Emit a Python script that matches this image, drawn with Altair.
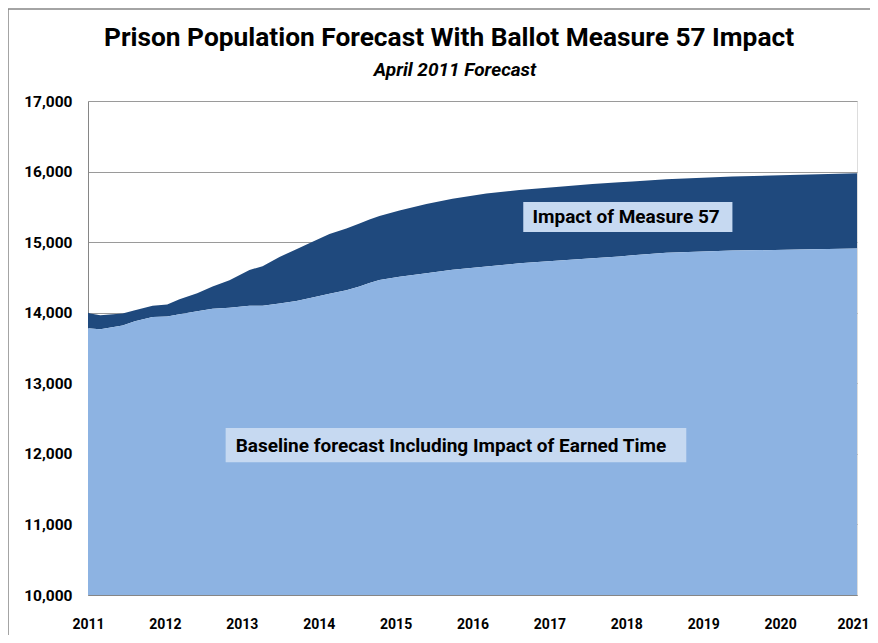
import altair as alt
import pandas as pd

# Time points (decimal years) and values
years = [2011.00, 2011.03, 2011.16, 2011.45, 2011.61, 2011.84, 2012.03, 2012.19,
         2012.42, 2012.62, 2012.84, 2013.10, 2013.27, 2013.49, 2013.71, 2013.92,
         2014.14, 2014.36, 2014.53, 2014.66, 2014.79, 2015.05, 2015.40, 2015.74,
         2016.18, 2016.61, 2017.13, 2017.56, 2017.91, 2018.08, 2018.52, 2019.38,
         2020.25, 2021.00]
baseline = [13780, 13775, 13765, 13820, 13880, 13940, 13945, 13980,
            14020, 14055, 14070, 14100, 14100, 14130, 14165, 14215,
            14270, 14320, 14370, 14420, 14465, 14510, 14560, 14610,
            14655, 14700, 14740, 14770, 14795, 14815, 14850, 14880,
            14895, 14910]
total = [14000, 13990, 13965, 13990, 14035, 14100, 14115, 14190,
         14275, 14370, 14460, 14605, 14660, 14790, 14900, 15005,
         15115, 15195, 15265, 15320, 15370, 15450, 15540, 15615,
         15690, 15740, 15785, 15825, 15850, 15860, 15890, 15930,
         15955, 15975]

# Annotation labels (text, box extents in data units, text anchor)
ann_text = ["Impact of Measure 57", "Baseline forecast Including Impact of Earned Time"]
ann_x1 = [2016.66, 2012.79]
ann_x2 = [2019.38, 2018.78]
ann_y1 = [15144, 11880]
ann_y2 = [15569, 12366]
ann_tx = [2016.78, 2012.92]
ann_ty = [15356, 12115]

title_text = "Prison Population Forecast With Ballot Measure 57 Impact"
subtitle_text = "April 2011 Forecast"

df = pd.DataFrame({"year": years, "baseline": baseline, "total": total})
df["floor"] = 10000
ann = pd.DataFrame({"text": ann_text, "x1": ann_x1, "x2": ann_x2,
                    "y1": ann_y1, "y2": ann_y2, "tx": ann_tx, "ty": ann_ty})
titles = pd.DataFrame({"t": [title_text], "s": [subtitle_text]})

FONT = "Liberation Sans Narrow, Roboto, sans-serif"
DARK = "#1F497D"
LIGHT = "#8DB3E2"
BOX = "#C6D9F1"

xs = alt.Scale(domain=[2011, 2021], nice=False, zero=False)
ys = alt.Scale(domain=[10000, 17000], nice=False, zero=False)

xaxis = alt.Axis(values=list(range(2011, 2022)), format="d", title=None,
                 labelFont=FONT, labelFontSize=14, labelFontWeight="bold",
                 labelColor="black", ticks=False, labelPadding=22,
                 labelOffset=alt.ExprRef(expr="datum.value == 2021 ? -4 : 0"),
                 domainColor="#868686", grid=False, labelFlush=False)
yaxis = alt.Axis(values=list(range(10000, 17001, 1000)), format=",d", title=None,
                 labelFont=FONT, labelFontSize=15.5, labelFontWeight="bold",
                 labelColor="black", ticks=False, labelPadding=16,
                 domainColor="#868686", gridColor="#9A9A9A", gridWidth=1.2)

base = alt.Chart(df)

impact = base.mark_area(color=DARK, opacity=1).encode(
    x=alt.X("year:Q", scale=xs, axis=xaxis),
    y=alt.Y("total:Q", scale=ys, axis=yaxis),
    y2="baseline:Q",
)
baseline_area = base.mark_area(color=LIGHT, opacity=1).encode(
    x=alt.X("year:Q", scale=xs),
    y=alt.Y("baseline:Q", scale=ys),
    y2="floor:Q",
)

boxes = alt.Chart(ann).mark_rect(color=BOX).encode(
    x=alt.X("x1:Q", scale=xs), x2="x2:Q",
    y=alt.Y("y1:Q", scale=ys), y2="y2:Q",
)
texts = alt.Chart(ann).mark_text(font=FONT, fontSize=19, fontWeight="bold",
                                 color="black", align="left", baseline="middle").encode(
    x=alt.X("tx:Q", scale=xs), y=alt.Y("ty:Q", scale=ys), text="text:N"
)

title_mark = alt.Chart(titles).mark_text(
    font=FONT, fontSize=26.3, fontWeight="bold", color="black",
    align="center", baseline="middle", clip=False
).encode(x=alt.value(361), y=alt.value(-63), text="t:N")

subtitle_mark = alt.Chart(titles).mark_text(
    font=FONT, fontSize=19, fontWeight="bold", fontStyle="italic", color="black",
    align="center", baseline="middle", clip=False
).encode(x=alt.value(367), y=alt.value(-31), text="s:N")

border = alt.Chart(titles).mark_rect(fill=None, stroke="#868686", strokeWidth=1.5,
                                     clip=False).encode(
    x=alt.value(-80), x2=alt.value(900), y=alt.value(-92), y2=alt.value(700)
)

chart = alt.layer(impact, baseline_area, boxes, texts, title_mark, subtitle_mark,
                  border).properties(
    width=769, height=494,
    autosize=alt.AutoSizeParams(type="none"),
    padding={"left": 80, "top": 93, "right": 13, "bottom": 40},
).configure_view(stroke=None).configure(background="white")

chart.save("out.html", embed_options={"renderer": "svg", "actions": False})
